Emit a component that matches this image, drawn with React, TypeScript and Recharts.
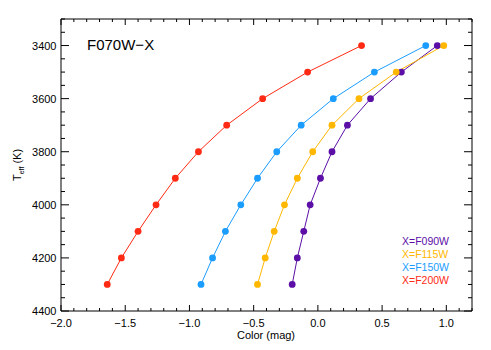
import React from 'react';
import { LineChart, Line, XAxis, YAxis } from 'recharts';

// Teff grid (K)
const teff = [3400, 3500, 3600, 3700, 3800, 3900, 4000, 4100, 4200, 4300];

// F070W - X colours (mag)
const colF090W = [0.93, 0.65, 0.41, 0.23, 0.11, 0.02, -0.06, -0.11, -0.16, -0.2];
const colF115W = [0.98, 0.61, 0.32, 0.11, -0.04, -0.16, -0.26, -0.34, -0.41, -0.47];
const colF150W = [0.84, 0.44, 0.12, -0.13, -0.32, -0.47, -0.6, -0.72, -0.82, -0.91];
const colF200W = [0.34, -0.08, -0.43, -0.71, -0.93, -1.11, -1.26, -1.4, -1.53, -1.64];

const xMajor = [-2.0, -1.5, -1.0, -0.5, 0.0, 0.5, 1.0];
const yMajor = [3400, 3600, 3800, 4000, 4200, 4400];

const X_DOMAIN: [number, number] = [-2.0, 1.2];
const Y_DOMAIN: [number, number] = [3300, 4400];

// minor ticks every 0.1 mag and every 50 K
const xTicks = Array.from({ length: 33 }, (_, i) => Math.round((-2 + i * 0.1) * 10) / 10);
const yTicks = Array.from({ length: 23 }, (_, i) => 3300 + i * 50);

const series = [
  { name: 'X=F090W', color: '#5b0fa6', cols: colF090W },
  { name: 'X=F115W', color: '#ffb700', cols: colF115W },
  { name: 'X=F150W', color: '#1a9dff', cols: colF150W },
  { name: 'X=F200W', color: '#ff2a14', cols: colF200W },
];

const toRows = (cols: number[]) => cols.map((c, i) => ({ c, t: teff[i] }));

const FONT = '"Liberation Sans", Arial, Helvetica, sans-serif';

const isMajorX = (v: number) => xMajor.some(m => Math.abs(m - Number(v)) < 1e-6);
const isMajorY = (v: number) => yMajor.some(m => Math.abs(m - Number(v)) < 1e-6);
const fmtX = (v: number) => Number(v).toFixed(1).replace('-', '\u2212');

// ticks point inwards, IDL style
const BottomTick = (props: any) => {
  const { x, y, payload } = props;
  const len = isMajorX(payload.value) ? 6 : 3;
  return (
    <g>
      <path d={`M${x},${y}V${y - len}`} stroke="#000" strokeWidth={1} fill="none" />
      {isMajorX(payload.value) && (
        <text x={x} y={y + 16} textAnchor="middle" fontSize={11} fontFamily={FONT} fill="#000">
          {fmtX(payload.value)}
        </text>
      )}
    </g>
  );
};

const TopTick = (props: any) => {
  const { x, y, payload } = props;
  const len = isMajorX(payload.value) ? 6 : 3;
  return <path d={`M${x},${y}V${y + len}`} stroke="#000" strokeWidth={1} fill="none" />;
};

const LeftTick = (props: any) => {
  const { x, y, payload } = props;
  const len = isMajorY(payload.value) ? 8 : 4;
  return (
    <g>
      <path d={`M${x},${y}H${x + len}`} stroke="#000" strokeWidth={1} fill="none" />
      {isMajorY(payload.value) && (
        <text x={x - 4.5} y={y + 4} textAnchor="end" fontSize={11} fontFamily={FONT} fill="#000">
          {payload.value}
        </text>
      )}
    </g>
  );
};

const RightTick = (props: any) => {
  const { x, y, payload } = props;
  const len = isMajorY(payload.value) ? 8 : 4;
  return <path d={`M${x},${y}H${x - len}`} stroke="#000" strokeWidth={1} fill="none" />;
};

export default function App() {
  return (
    <div style={{ position: 'absolute', left: 0, top: 0, width: 491, height: 350, background: '#fff', fontFamily: FONT }}>
      <LineChart width={491} height={350} margin={{ top: 18, right: 18, bottom: 0, left: 0 }}>
        <XAxis
          xAxisId="b"
          type="number"
          dataKey="c"
          domain={X_DOMAIN}
          allowDataOverflow
          ticks={xTicks}
          interval={0}
          height={39}
          tickSize={0}
          tickMargin={0}
          tickLine={false}
          tick={BottomTick}
          axisLine={{ stroke: '#000' }}
        />
        <XAxis
          xAxisId="t"
          orientation="top"
          type="number"
          dataKey="c"
          domain={X_DOMAIN}
          allowDataOverflow
          ticks={xTicks}
          interval={0}
          height={1}
          tickSize={0}
          tickMargin={0}
          tickLine={false}
          tick={TopTick}
          axisLine={{ stroke: '#000' }}
        />
        <YAxis
          yAxisId="l"
          type="number"
          domain={Y_DOMAIN}
          reversed
          allowDataOverflow
          ticks={yTicks}
          interval={0}
          width={61}
          tickSize={0}
          tickMargin={0}
          tickLine={false}
          tick={LeftTick}
          axisLine={{ stroke: '#000' }}
        />
        <YAxis
          yAxisId="r"
          orientation="right"
          type="number"
          domain={Y_DOMAIN}
          reversed
          allowDataOverflow
          ticks={yTicks}
          interval={0}
          width={1}
          tickSize={0}
          tickMargin={0}
          tickLine={false}
          tick={RightTick}
          axisLine={{ stroke: '#000' }}
        />
        {/* invisible copy so the top and right frame axes get drawn */}
        <Line
          xAxisId="t"
          yAxisId="r"
          data={toRows(colF200W)}
          dataKey="t"
          stroke="none"
          dot={false}
          activeDot={false}
          legendType="none"
          isAnimationActive={false}
        />
        {series.map(s => (
          <Line
            key={s.name}
            xAxisId="b"
            yAxisId="l"
            data={toRows(s.cols)}
            dataKey="t"
            stroke={s.color}
            strokeWidth={1}
            dot={{ r: 3.4, fill: s.color, stroke: s.color, strokeWidth: 0 }}
            isAnimationActive={false}
          />
        ))}
      </LineChart>

      <div style={{ position: 'absolute', left: 87, top: 36, fontSize: 15, lineHeight: '18px', color: '#000' }}>
        F070W{'\u2212'}X
      </div>

      <div style={{ position: 'absolute', left: 402, top: 235 }}>
        {series.map(s => (
          <div key={s.name} style={{ color: s.color, fontSize: 10.5, lineHeight: '13px' }}>
            {s.name}
          </div>
        ))}
      </div>

      <div style={{ position: 'absolute', left: 266, top: 335, transform: 'translate(-50%, -50%)', fontSize: 11, whiteSpace: 'nowrap' }}>
        Color (mag)
      </div>

      <div
        style={{
          position: 'absolute',
          left: 18,
          top: 165,
          transform: 'translate(-50%, -50%) rotate(-90deg)',
          fontSize: 11,
          whiteSpace: 'nowrap',
        }}
      >
        T<sub style={{ fontSize: 7, verticalAlign: 'sub' }}>eff</sub> (K)
      </div>
    </div>
  );
}
